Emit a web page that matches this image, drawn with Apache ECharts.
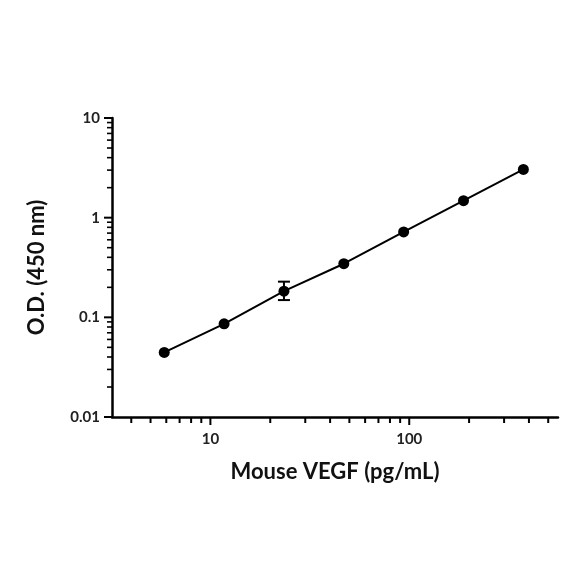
<!DOCTYPE html>
<html><head><meta charset="utf-8">
<script src="https://cdn.jsdelivr.net/npm/echarts@6/dist/echarts.min.js"></script>
<style>html,body{margin:0;padding:0;background:#fff}#c{width:584px;height:584px}</style>
</head><body><div id="c"></div>
<script>
const conc = [5.86, 11.72, 23.44, 46.88, 93.75, 187.5, 375];
const od = [0.0445, 0.086, 0.183, 0.345, 0.72, 1.48, 3.05];
const errLow = [null, null, 0.149, null, null, null, null];
const errHigh = [null, null, 0.228, null, null, null, null];
const xMajor = [10, 100];
const xMinor = [4,5,6,7,8,9,20,30,40,50,60,70,80,90,200,300,400,500];
const yMajor = [0.01, 0.1, 1, 10];
const yMinor = [];
[0.01,0.1,1].forEach(d=>{for(let k=2;k<=9;k++) yMinor.push(+(d*k).toPrecision(3));});
const xMin = 3.2, xMax = 560, yMin = 0.01, yMax = 10;

const chart = echarts.init(document.getElementById('c'));
const font = 'Lato, "DejaVu Sans", sans-serif';

chart.setOption({
  animation:false,
  grid:{left:112, right:26, top:118, bottom:167},
  xAxis:{type:'log', min:xMin, max:xMax, logBase:10,
    name:'Mouse VEGF (pg/mL)', nameLocation:'middle', nameGap:44,
    nameTextStyle:{fontFamily:font, fontWeight:'bold', fontSize:22, color:'#111'},
    axisLine:{lineStyle:{color:'#000', width:2.5}},
    axisTick:{show:false}, splitLine:{show:false}, minorTick:{show:false},
    axisLabel:{showMinLabel:false, showMaxLabel:false, fontFamily:font, fontWeight:'bold', fontSize:15, color:'#222', margin:15,
      formatter:v=>String(Math.round(v))}
  },
  yAxis:{type:'log', min:yMin, max:yMax, logBase:10,
    name:'O.D. (450 nm)', nameLocation:'middle', nameGap:64,
    nameTextStyle:{fontFamily:font, fontWeight:'bold', fontSize:22, color:'#111'},
    axisLine:{lineStyle:{color:'#000', width:2.5}},
    axisTick:{show:false}, splitLine:{show:false},
    axisLabel:{fontFamily:font, fontWeight:'bold', fontSize:15, color:'#222', margin:12,
      formatter:v=>String(+v.toPrecision(2))}
  },
  series:[
    {type:'line', data:conc.map((c,i)=>[c,od[i]]), symbol:'circle', symbolSize:11,
      lineStyle:{color:'#000', width:2}, itemStyle:{color:'#000'}}
  ]
});

const g = [];
function line(x1,y1,x2,y2,w){g.push({type:'line', shape:{x1,y1,x2,y2}, style:{stroke:'#000', lineWidth:w}});}
xMajor.concat(xMinor).forEach(v=>{
  const c = chart.convertToPixel({gridIndex:0}, [v, yMin]);
  line(c[0], c[1], c[0], c[1] + (xMajor.includes(v)?8:6), 2);
});
yMajor.concat(yMinor).forEach(v=>{
  const c = chart.convertToPixel({gridIndex:0}, [xMin, v]);
  const maj = yMajor.includes(v);
  line(c[0], c[1], c[0] - (maj?8:5), c[1], maj?2:1.6);
});
conc.forEach((x,i)=>{
  if(errLow[i]==null) return;
  const a = chart.convertToPixel({gridIndex:0}, [x, errLow[i]]);
  const b = chart.convertToPixel({gridIndex:0}, [x, errHigh[i]]);
  line(a[0],a[1],b[0],b[1],2);
  line(a[0]-6,a[1],a[0]+6,a[1],2);
  line(b[0]-6,b[1],b[0]+6,b[1],2);
});
chart.setOption({graphic:g});
</script></body></html>
